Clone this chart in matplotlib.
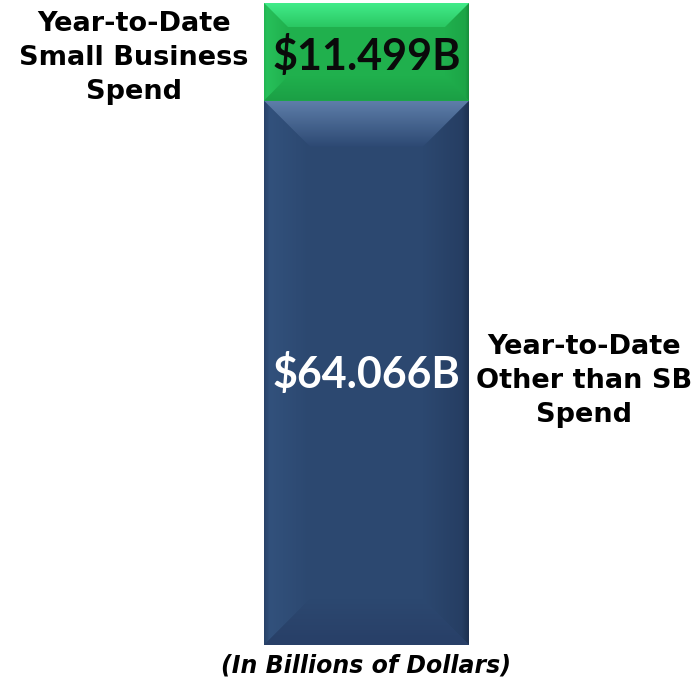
import matplotlib
matplotlib.use("Agg")
import matplotlib.pyplot as plt
import numpy as np
from matplotlib.patches import Polygon
from matplotlib.colors import to_rgb

# Data
categories = ["Year-to-Date\nOther than SB\nSpend", "Year-to-Date\nSmall Business\nSpend"]
values = [64.066, 11.499]
value_labels = ["$64.066B", "$11.499B"]
footer = "(In Billions of Dollars)"

W, H = 693, 684
fig = plt.figure(figsize=(W / 100, H / 100), dpi=100)
fig.patch.set_facecolor("white")

bx0, bx1, by_top, by_bot = 264, 469, 3, 645
ax = fig.add_axes([bx0 / W, (H - by_bot) / H, (bx1 - bx0) / W, (by_bot - by_top) / H])
total = sum(values)
ax.axis("off")

main_colors = ["#2c4870", "#20b04d"]
top_colors = ["#5e7ea9", "#42ec8a"]
top_end_colors = ["#2d4973", "#2ac762"]
left_edge = ["#284268", "#22b452"]
left_colors = ["#32517c", "#27c05a"]
right_colors = ["#263e63", "#1ca547"]
right_edge = ["#1e3150", "#178e3c"]
bottom_colors = ["#283f67", "#1b9f45"]
text_colors = ["white", "#0a0a0a"]
bevel_sizes = [46.0, 24.0]

bars = ax.bar([0, 0], values, bottom=[0, values[0]], width=1.0, color=main_colors,
              edgecolor="none", zorder=1)


def grad_poly(pts, stops, extent, vertical=True, z=2):
    poly = Polygon(pts, closed=True, facecolor="none", edgecolor="none")
    ax.add_patch(poly)
    n = 96
    pos = np.array([s[0] for s in stops])
    cols = np.array([to_rgb(s[1]) for s in stops])
    t = np.linspace(0, 1, n)
    img = np.stack([np.interp(t, pos, cols[:, k]) for k in range(3)], axis=-1)
    if vertical:
        img = np.repeat(img[:, None, :], 2, axis=1)
    else:
        img = np.repeat(img[None, :, :], 2, axis=0)
    im = ax.imshow(img, extent=extent, aspect="auto", zorder=z,
                   interpolation="bilinear", origin="upper")
    im.set_clip_path(poly)


for i, b in enumerate(bars):
    x0, y0 = b.get_x(), b.get_y()
    x1, y1 = x0 + b.get_width(), y0 + b.get_height()
    bev = bevel_sizes[i]
    dx = bev / (bx1 - bx0)
    dy = bev / (by_bot - by_top) * total
    grad_poly([[x0, y0], [x0, y1], [x0 + dx, y1 - dy], [x0 + dx, y0 + dy]],
              [(0, left_edge[i]), (0.12, left_colors[i]), (1, main_colors[i])],
              [x0, x0 + dx, y0, y1], vertical=False)
    grad_poly([[x1, y0], [x1, y1], [x1 - dx, y1 - dy], [x1 - dx, y0 + dy]],
              [(0, main_colors[i]), (0.85, right_colors[i]), (1, right_edge[i])],
              [x1 - dx, x1, y0, y1], vertical=False)
    grad_poly([[x0, y0], [x1, y0], [x1 - dx, y0 + dy], [x0 + dx, y0 + dy]],
              [(0, main_colors[i]), (1, bottom_colors[i])],
              [x0, x1, y0, y0 + dy], vertical=True)
    grad_poly([[x0, y1], [x1, y1], [x1 - dx, y1 - dy], [x0 + dx, y1 - dy]],
              [(0, top_colors[i]), (1, top_end_colors[i])],
              [x0, x1, y1 - dy, y1], vertical=True)
    ax.text((x0 + x1) / 2, (y0 + y1) / 2 - (0.45 if i == 1 else 0.1), value_labels[i],
            ha="center", va="center", color=text_colors[i], fontsize=31,
            fontweight="bold", family="Lato", zorder=3)

ax.set_xlim(-0.5, 0.5)
ax.set_ylim(0, total)

# Category labels
fig.text(134 / W, 1 - 58 / H, categories[1], ha="center", va="center", fontsize=19.5,
         fontweight="bold", family="DejaVu Sans", linespacing=1.4)
fig.text(584 / W, 1 - 381 / H, categories[0], ha="center", va="center", fontsize=19.5,
         fontweight="bold", family="DejaVu Sans", linespacing=1.4)

fig.text(366 / W, 1 - 665 / H, footer, ha="center", va="center", fontsize=17,
         fontweight="bold", style="italic", family="DejaVu Sans")

fig.savefig("out.png", dpi=100, facecolor="white")
